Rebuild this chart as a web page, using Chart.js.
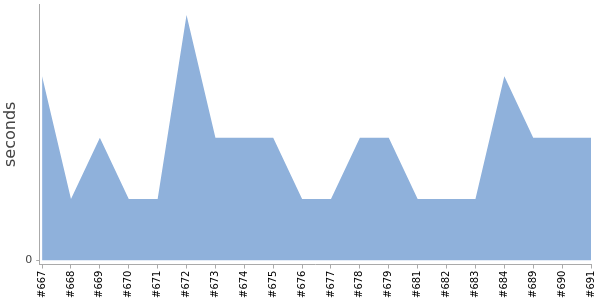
<!DOCTYPE html>
<html>
<head>
<meta charset="utf-8">
<script src="https://cdn.jsdelivr.net/npm/chart.js@4"></script>
<style>
html,body{margin:0;padding:0;background:#fff;}
#wrap{width:600px;height:300px;}
</style>
</head>
<body>
<div id="wrap"><canvas id="myChart" width="600" height="300"></canvas></div>
<script>
var builds = ['#667','#668','#669','#670','#671','#672','#673','#674','#675','#676',
              '#677','#678','#679','#681','#682','#683','#684','#689','#690','#691'];
var seconds = [3,1,2,1,1,4,2,2,2,1,1,2,2,1,1,1,3,2,2,2];
var yTicks = [0];

var points = [];
for (var i = 0; i < seconds.length; i++) {
    points.push({x: i, y: seconds[i]});
}

var ctx = document.getElementById('myChart').getContext('2d');
var myChart = new Chart(ctx, {
    type: 'line',
    data: {
        datasets: [{
            label: 'seconds',
            data: points,
            fill: 'origin',
            backgroundColor: 'rgb(143,177,219)',
            borderWidth: 0,
            borderColor: 'rgba(0,0,0,0)',
            pointRadius: 0,
            lineTension: 0
        }]
    },
    options: {
        responsive: false,
        animation: false,
        layout: {padding: {top: 4, right: 9, left: 0, bottom: 0}},
        plugins: {legend: {display: false}, tooltip: {enabled: false}},
        scales: {
            x: {
                type: 'linear',
                min: -0.1,
                max: builds.length - 1,
                afterBuildTicks: function (axis) {
                    axis.ticks = builds.map(function (b, i) { return {value: i}; });
                },
                afterFit: function (axis) { axis.paddingRight = 0; axis.paddingLeft = 0; },
                grid: {drawOnChartArea: false, color: '#aaa', tickLength: 4},
                border: {color: '#aaa'},
                ticks: {
                    autoSkip: false,
                    minRotation: 90,
                    maxRotation: 90,
                    color: '#000',
                    padding: 2,
                    font: {family: 'DejaVu Sans', size: 10},
                    callback: function (v) { return builds[v]; }
                }
            },
            y: {
                min: -0.07,
                max: 4.18,
                afterBuildTicks: function (axis) {
                    axis.ticks = yTicks.map(function (v) { return {value: v}; });
                },
                afterFit: function (axis) { axis.paddingTop = 0; },
                grid: {drawOnChartArea: false, color: '#aaa', tickLength: 3},
                border: {color: '#aaa'},
                title: {
                    display: true,
                    text: 'seconds',
                    color: '#444',
                    padding: {top: 1, bottom: 1},
                    font: {family: 'DejaVu Sans', size: 16}
                },
                ticks: {
                    color: '#444',
                    padding: 4,
                    font: {family: 'DejaVu Sans', size: 11}
                }
            }
        }
    }
});
</script>
</body>
</html>
